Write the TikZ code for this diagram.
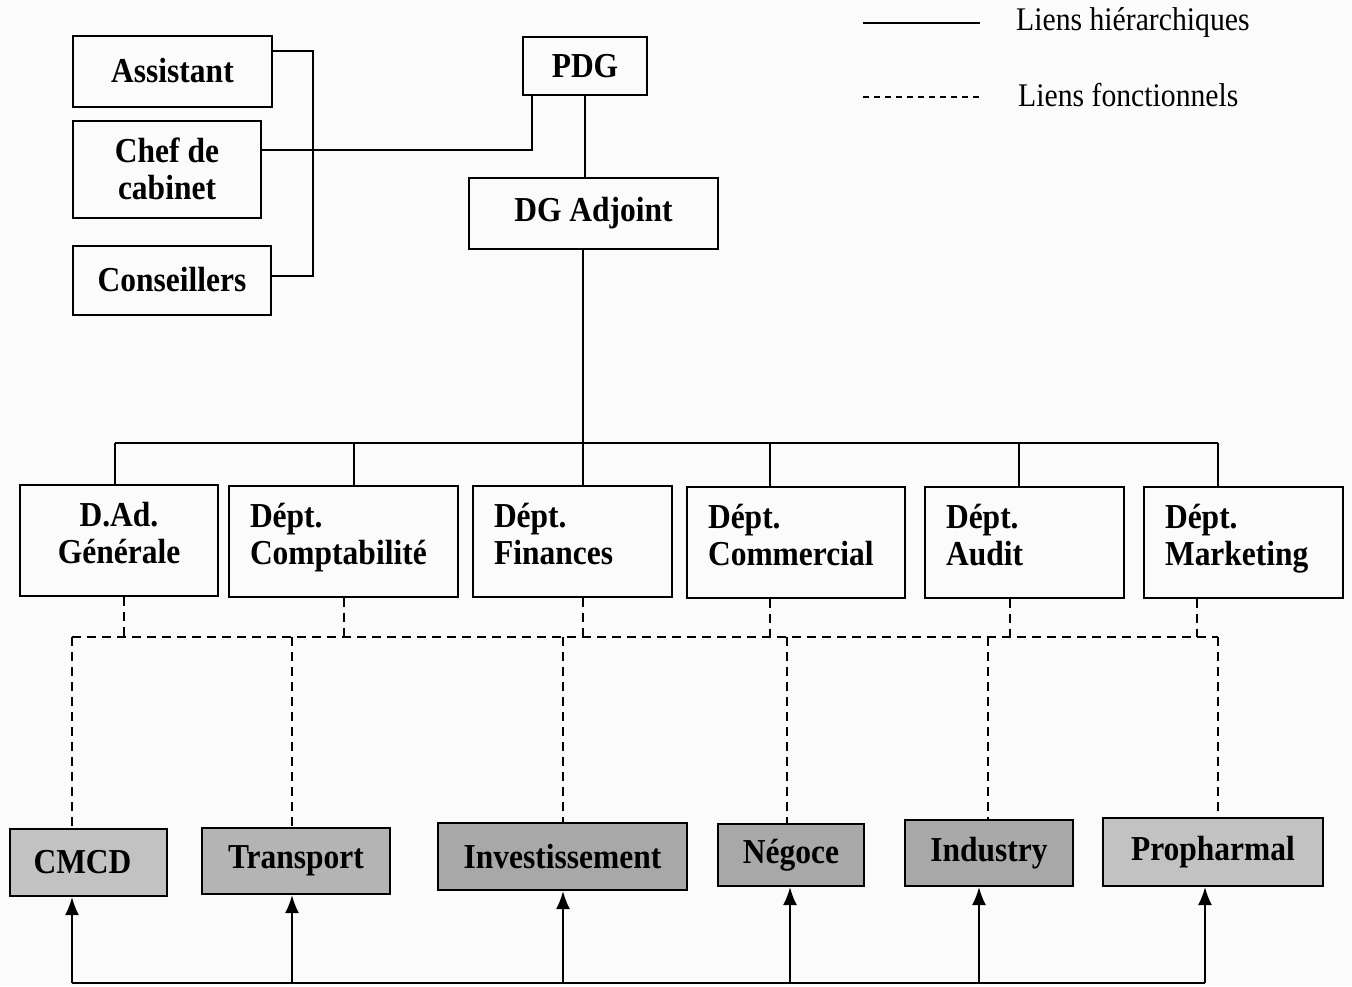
\documentclass[tikz,border=0pt]{standalone}
\usepackage{fontspec}
\setmainfont{Liberation Serif}[FakeStretch=0.9]
\usetikzlibrary{arrows.meta}
\definecolor{paper}{HTML}{FBFBFC}
\definecolor{fillA}{HTML}{C2C2C2}
\definecolor{fillB}{HTML}{B4B4B4}
\definecolor{fillC}{HTML}{A8A8A8}
% even depth under the last line of a two-line department label
\newcommand{\lastdepth}{\rule[-15pt]{0pt}{15pt}}
\begin{document}
\begin{tikzpicture}[x=1pt,y=-1pt,
  box/.style={draw,line width=2pt,inner sep=0pt,align=center,
    font=\fontsize{35}{37}\selectfont\bfseries},
  dept/.style={box,inner xsep=21pt,inner ysep=0pt,align=left},
  unit/.style={box,draw,line width=2.2pt},
  hl/.style={line width=1.8pt},
  fn/.style={line width=2.2pt,dash pattern=on 9pt off 6pt},
  up/.style={line width=1.8pt,-{Latex[length=18pt,width=14pt]}},
  legtext/.style={anchor=west,inner sep=0pt,font=\fontsize{33}{35}\selectfont}]
\useasboundingbox (0,0) rectangle (1352,986);
\fill[paper] (0,0) rectangle (1352,986);

% top management
\node[box,minimum width=199pt,minimum height=71pt] (asst) at (172.5,71) {Assistant};
\node[box,minimum width=188pt,minimum height=97pt] (chef) at (167,169) {Chef de\\cabinet};
\node[box,minimum width=198pt,minimum height=69pt] (cons) at (172,280) {Conseillers};
\node[box,minimum width=124pt,minimum height=58pt] (pdg) at (585,66) {PDG};
\node[box,minimum width=249pt,minimum height=71pt] (dga) at (593.5,213.5) {DG Adjoint};

% departments
\node[dept,align=center,text width=156pt,minimum height=111pt] (d1) at (119,540.5) {D.Ad.\\Générale\lastdepth};
\node[dept,text width=187pt,minimum height=111pt] (d2) at (343.5,541) {Dépt.\\Comptabilité\lastdepth};
\node[dept,text width=157pt,minimum height=111pt] (d3) at (572.5,541.5) {Dépt.\\Finances\lastdepth};
\node[dept,text width=176pt,minimum height=111pt] (d4) at (796,542) {Dépt.\\Commercial\lastdepth};
\node[dept,text width=157pt,minimum height=111pt] (d5) at (1024.5,542) {Dépt.\\Audit\lastdepth};
\node[dept,text width=157pt,minimum height=111pt] (d6) at (1243.5,542) {Dépt.\\Marketing\lastdepth};

% subsidiaries
\node[unit,fill=fillA,minimum width=157pt,minimum height=67pt] (b1) at (88.5,862.5) {\hspace*{-12pt}CMCD};
\node[unit,fill=fillB,minimum width=188pt,minimum height=66pt] (b2) at (296,861) {Transport};
\node[unit,fill=fillC,minimum width=249pt,minimum height=67pt] (b3) at (562.5,856.5) {Investissement};
\node[unit,fill=fillC,minimum width=146pt,minimum height=62pt] (b4) at (791,855) {Négoce};
\node[unit,fill=fillC,minimum width=168pt,minimum height=66pt] (b5) at (989,853) {Industry};
\node[unit,fill=fillA,minimum width=220pt,minimum height=68pt] (b6) at (1213,852) {Propharmal};

% staff bracket
\coordinate (k1) at (313,51);
\coordinate (k2) at (313,276);
\coordinate (k3) at (532,150);
\draw[hl] (k1 -| asst.east) -- (k1) -- (k2) -- (k2 -| cons.east);
\draw[hl] (k3 -| chef.east) -- (k3) -- (k3 |- pdg.south);

% hierarchy
\draw[hl] (pdg.south) -- (pdg.south |- dga.north);
\coordinate (hub) at (583,443);
\coordinate (busL) at (115,443);
\coordinate (busR) at (1218,443);
\draw[hl] (hub |- dga.south) -- (hub);
\draw[hl] (busL) -- (busR);
\coordinate (t2) at (354,443);
\coordinate (t4) at (770,443);
\coordinate (t5) at (1019,443);
\draw[hl] (busL) -- (busL |- d1.north);
\draw[hl] (t2) -- (t2 |- d2.north);
\draw[hl] (hub) -- (hub |- d3.north);
\draw[hl] (t4) -- (t4 |- d4.north);
\draw[hl] (t5) -- (t5 |- d5.north);
\draw[hl] (busR) -- (busR |- d6.north);

% functional links
\coordinate (f1) at (124,637);
\coordinate (f2) at (344,637);
\coordinate (f3) at (583,637);
\coordinate (f4) at (770,637);
\coordinate (f5) at (1010,637);
\coordinate (f6) at (1197,637);
\draw[fn] (f1 |- d1.south) -- (f1);
\draw[fn] (f2 |- d2.south) -- (f2);
\draw[fn] (f3 |- d3.south) -- (f3);
\draw[fn] (f4 |- d4.south) -- (f4);
\draw[fn] (f5 |- d5.south) -- (f5);
\draw[fn] (f6 |- d6.south) -- (f6);
\coordinate (g1) at (72,637);
\coordinate (g2) at (292,637);
\coordinate (g3) at (563,637);
\coordinate (g4) at (787,637);
\coordinate (g5) at (988,637);
\coordinate (g6) at (1218,637);
\draw[fn] (g1) -- (g6);
\draw[fn] (g1) -- (g1 |- b1.north);
\draw[fn] (g2) -- (g2 |- b2.north);
\draw[fn] (g3) -- (g3 |- b3.north);
\draw[fn] (g4) -- (g4 |- b4.north);
\draw[fn] (g5) -- (g5 |- b5.north);
\draw[fn] (g6) -- (g6 |- b6.north);

% supply line with arrows
\coordinate (h1) at (72,983);
\coordinate (h2) at (292,983);
\coordinate (h3) at (563,983);
\coordinate (h4) at (790,983);
\coordinate (h5) at (979,983);
\coordinate (h6) at (1205,983);
\draw[hl] (h1) -- (h6);
\draw[up] (h1) -- (h1 |- b1.south);
\draw[up] (h2) -- (h2 |- b2.south);
\draw[up] (h3) -- (h3 |- b3.south);
\draw[up] (h4) -- (h4 |- b4.south);
\draw[up] (h5) -- (h5 |- b5.south);
\draw[up] (h6) -- (h6 |- b6.south);

% legend
\coordinate (l1) at (863,23);
\coordinate (l2) at (980,23);
\coordinate (l3) at (863,97);
\coordinate (l4) at (980,97);
\draw[line width=1.5pt] (l1) -- (l2);
\draw[line width=1.5pt,dash pattern=on 6pt off 5pt] (l3) -- (l4);
\node[legtext] (lh) at (1016,23) {Liens hiérarchiques};
\node[legtext] (lf) at (1018,95) {Liens fonctionnels};
\end{tikzpicture}
\end{document}
